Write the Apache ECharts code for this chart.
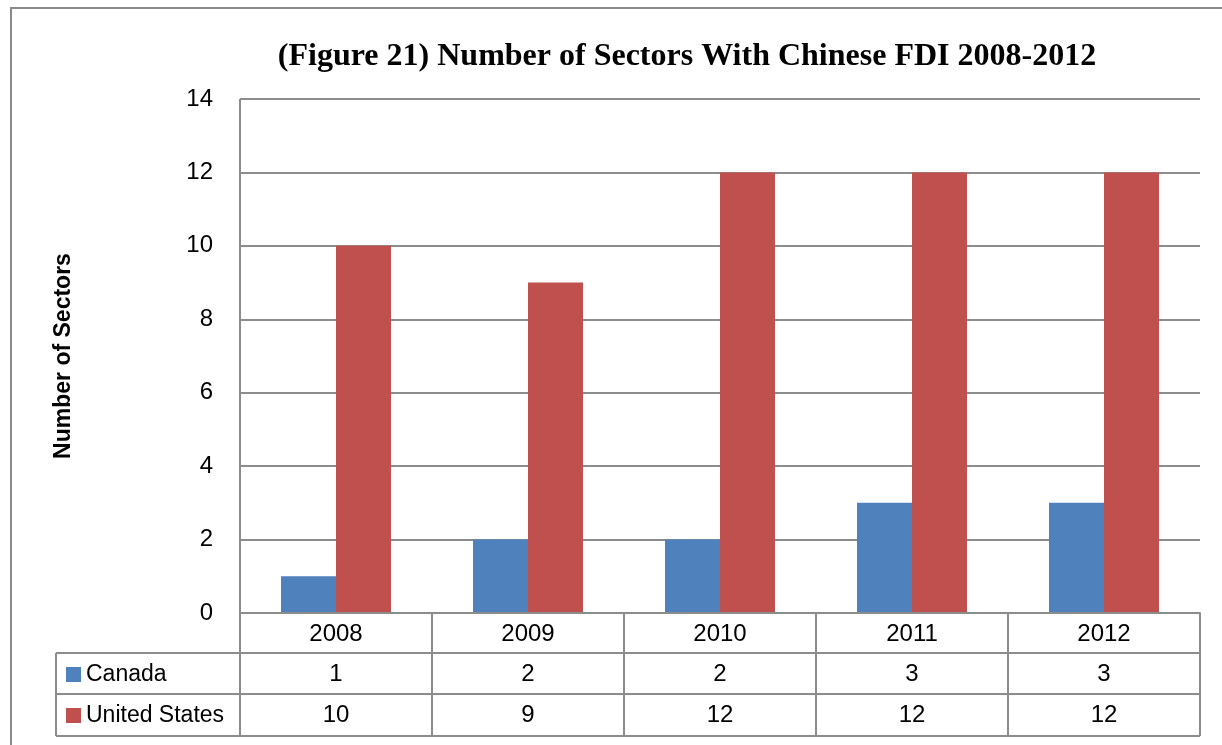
<!DOCTYPE html>
<html>
<head>
<meta charset="utf-8">
<script src="https://cdn.jsdelivr.net/npm/echarts@6/dist/echarts.min.js"></script>
<style>html,body{margin:0;padding:0;background:#fff}#c{width:1222px;height:745px}</style>
</head>
<body>
<div id="c"></div>
<script>
var categories = ['2008', '2009', '2010', '2011', '2012'];
var canada = [1, 2, 2, 3, 3];
var unitedStates = [10, 9, 12, 12, 12];
var yTicks = [0, 2, 4, 6, 8, 10, 12, 14];

var GL = 240, GR = 1200, GT = 99, GB = 613;
var ROW = [613, 653, 694, 736];
var LEG_L = 56;
var LINE = '#8c8c8c';
var FONT = '"Liberation Sans", Arial, sans-serif';

var chart = echarts.init(document.getElementById('c'), null, {renderer: 'canvas'});

function buildGraphics() {
  var g = [];
  g.push({type: 'rect', shape: {x: 11, y: 8, width: 1400, height: 900},
    style: {fill: null, stroke: '#8a8a8a', lineWidth: 2}, silent: true, z: 0});
  var n = categories.length;
  var w = (GR - GL) / n;
  function hl(x1, x2, y) {
    g.push({type: 'line', shape: {x1: x1, y1: y, x2: x2, y2: y}, style: {stroke: LINE, lineWidth: 2}, z: 10});
  }
  function vl(x, y1, y2) {
    g.push({type: 'line', shape: {x1: x, y1: y1, x2: x, y2: y2}, style: {stroke: LINE, lineWidth: 2}, z: 10});
  }
  hl(GL, GR, ROW[0]);
  hl(LEG_L, GR, ROW[1]);
  hl(LEG_L, GR, ROW[2]);
  hl(LEG_L, GR, ROW[3]);
  vl(LEG_L, ROW[1], ROW[3]);
  for (var i = 0; i <= n; i++) vl(GL + i * w, ROW[0], ROW[3]);
  vl(GL, GT, GB);
  return g;
}

var labelStyle = {color: '#000', fontSize: 24, fontFamily: FONT};
var legendText = {fontSize: 23, fontFamily: FONT, color: '#000'};

var option = {
  animation: false,
  backgroundColor: '#fff',
  title: {
    text: '(Figure 21) Number of Sectors With Chinese FDI 2008-2012',
    left: 682, top: 36, textAlign: 'center',
    textStyle: {fontFamily: '"Liberation Serif", "Times New Roman", serif', fontWeight: 'bold', fontSize: 32, color: '#000'}
  },
  legend: [
    {left: 61, top: 658, itemWidth: 15, itemHeight: 15, icon: 'rect', itemGap: 0,
      textStyle: legendText, data: ['Canada']},
    {left: 61, top: 699, itemWidth: 15, itemHeight: 15, icon: 'rect', itemGap: 0,
      textStyle: legendText, data: ['United States']}
  ],
  grid: {left: GL, right: 1222 - GR, top: GT, bottom: 745 - GB, containLabel: false},
  xAxis: [
    {type: 'category', data: categories, position: 'bottom',
      axisLine: {show: true, lineStyle: {color: LINE, width: 2}},
      axisTick: {show: false},
      axisLabel: Object.assign({margin: 9}, labelStyle)},
    {type: 'category', data: categories, position: 'bottom', offset: 41,
      axisLine: {show: false}, axisTick: {show: false},
      axisLabel: Object.assign({margin: 8, formatter: function (v, i) { return String(canada[i]); }}, labelStyle)},
    {type: 'category', data: categories, position: 'bottom', offset: 82,
      axisLine: {show: false}, axisTick: {show: false},
      axisLabel: Object.assign({margin: 8, formatter: function (v, i) { return String(unitedStates[i]); }}, labelStyle)}
  ],
  yAxis: {
    type: 'value', min: yTicks[0], max: yTicks[yTicks.length - 1], interval: 2,
    name: 'Number of Sectors', nameLocation: 'middle', nameGap: 165, nameRotate: 90,
    nameTextStyle: {fontFamily: FONT, fontWeight: 'bold', fontSize: 23, color: '#000'},
    axisLine: {show: false},
    axisTick: {show: false},
    axisLabel: Object.assign({margin: 27}, labelStyle),
    splitLine: {show: true, lineStyle: {color: LINE, width: 2}}
  },
  series: [
    {name: 'Canada', type: 'bar', data: canada, barWidth: 55, barGap: '0%',
      itemStyle: {color: '#4F81BD'}, xAxisIndex: 0},
    {name: 'United States', type: 'bar', data: unitedStates, barWidth: 55, barGap: '0%',
      itemStyle: {color: '#C0504D'}, xAxisIndex: 0}
  ],
  graphic: buildGraphics()
};
chart.setOption(option);
</script>
</body>
</html>
